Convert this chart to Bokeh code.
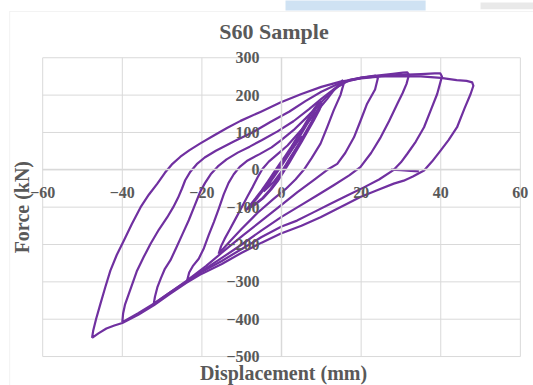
import math
from bokeh.plotting import figure
from bokeh.models import FixedTicker, BoxAnnotation, Range1d, Label
from bokeh.embed import file_html
from bokeh.resources import INLINE

# ---------------- data ----------------
x_ticks = [-60, -40, -20, 0, 20, 40, 60]
y_ticks = [-500, -400, -300, -200, -100, 0, 100, 200, 300]

# cycle +/-48 mm
c48_x = [-47.6, -47.3, -46.6, -45.5, -44.3, -43.0, -41.4, -39.6, -37.6, -35.4, -33.3, -31.2, -29.3, -27.4,
         -25.4, -23.2, -20.5, -17.0, -13.7, -10.3, -5.3, -0.3, 5.0, 10.0, 14.8, 20.0, 25.0, 30.0, 35.0, 40.0,
         44.0, 46.5, 47.9, 48.2, 47.5, 46.0, 44.1, 42.0, 40.0, 37.8, 35.8, 33.0, 30.7, 28.2, 24.0, 19.8, 15.0,
         9.8, 5.0, -0.3, -5.0, -10.0, -15.0, -20.0, -24.0, -28.0, -32.0, -36.0, -40.0, -42.0, -44.0, -46.0, -47.6]
c48_y = [-450, -430, -400, -359, -315, -270, -228, -189, -145, -100, -66, -37, -8, 16,
         35, 52, 70, 92, 112, 131, 155, 180, 203, 222, 236, 245, 250, 251, 250, 246,
         240, 238, 234, 225, 203, 165, 114, 80, 52, 22, -2, -18, -29, -37, -55, -73, -99,
         -127, -150, -171, -195, -222, -252, -278, -303, -332, -362, -388, -410, -417, -425, -438, -450]

# cycle +/-40 mm
c40_x = [-40.0, -39.8, -39.3, -38.3, -37.3, -36.3, -34.6, -32.9, -30.8, -28.7, -27.2, -26.0, -25.0, -24.2,
         -22.9, -21.3, -19.3, -16.5, -12.0, -7.0, -2.8, 2.0, 6.0, 10.0, 14.0, 17.0, 20.0, 25.0, 30.0, 35.0,
         38.5, 39.9, 40.3, 39.8, 39.1, 37.5, 35.8, 33.7, 31.6, 30.0, 28.2, 24.5, 20.7, 16.5, 12.3, 8.0, 3.9,
         0.0, -5.0, -10.0, -15.0, -20.0, -23.7, -28.0, -32.0, -36.0, -40.0]
c40_y = [-408, -385, -360, -330, -300, -270, -233, -198, -160, -127, -100, -75, -50, -28,
         -5, 15, 33, 51, 76, 102, 128, 156, 184, 209, 229, 240, 246, 251, 254, 256,
         258, 258, 250, 230, 203, 160, 114, 75, 43, 20, 0, -26, -47, -69, -91, -114, -136,
         -152, -180, -212, -244, -273, -298, -328, -358, -384, -408]

# cycle +/-32 mm
c32_x = [-32.1, -31.8, -31.2, -30.3, -29.3, -27.9, -26.5, -25.0, -23.3, -21.8, -20.4, -19.2, -17.8, -16.0,
         -13.8, -11.0, -8.0, -5.0, -1.0, 3.0, 7.0, 10.0, 13.0, 16.0, 20.0, 24.0, 28.0, 30.5, 31.6, 32.0,
         31.4, 30.4, 29.1, 27.0, 24.9, 22.5, 19.8, 17.0, 13.0, 9.0, 5.0, 0.0, -5.0, -10.0, -15.0, -19.0,
         -23.7, -28.0, -32.1]
c32_y = [-359, -340, -315, -290, -265, -242, -210, -175, -135, -95, -58, -35, -12, 9,
         28, 46, 62, 79, 103, 130, 163, 190, 215, 235, 246, 252, 257, 260, 261, 254,
         230, 205, 177, 130, 87, 45, 7, -15, -42, -68, -94, -126, -162, -200, -236, -264,
         -296, -328, -359]

# cycle +/-24 mm
c24_x = [-23.7, -23.2, -22.3, -20.8, -19.5, -18.3, -17.0, -15.8, -14.5, -13.3, -12.0, -10.5, -8.5, -5.5,
         -2.5, 0.0, 3.0, 6.0, 9.0, 12.0, 14.5, 17.0, 20.0, 23.6, 24.2, 23.5, 21.5, 19.8, 18.2, 16.0, 14.0,
         11.5, 8.0, 4.0, 0.0, -5.0, -10.0, -15.0, -19.0, -23.7]
c24_y = [-296, -275, -258, -238, -210, -175, -140, -105, -65, -35, -12, 8, 25, 42,
         60, 80, 106, 137, 170, 203, 225, 240, 247, 252, 245, 215, 177, 130, 87, 45, 16,
         0, -28, -60, -94, -136, -178, -222, -258, -296]

# cycle +/-16 mm
c16_x = [-15.8, -15.2, -14.3, -13.0, -11.5, -10.0, -8.5, -7.2, -6.0, -4.8, -3.2, -1.0, 1.5, 4.0,
         6.5, 9.0, 11.5, 13.5, 15.3, 15.6, 14.8, 13.1, 11.5, 9.8, 7.6, 5.6, 3.5, 1.0, -2.0, -6.0,
         -10.0, -13.0, -15.8]
c16_y = [-225, -205, -185, -160, -130, -100, -70, -45, -20, 2, 22, 42, 65, 95,
         125, 158, 190, 218, 239, 230, 200, 159, 115, 70, 32, 0, -26, -52, -78, -115,
         -158, -192, -225]

# cycles +/-8 mm (two passes)
c8a_x = [-9.0, -8.0, -6.5, -5.0, -3.5, -2.0, -0.5, 1.0, 2.5, 4.0, 5.5, 7.0, 8.3, 9.3,
         9.6, 9.0, 7.5, 6.0, 4.5, 3.0, 1.5, 0.0, -1.5, -3.0, -5.0, -7.0, -9.0]
c8a_y = [-108, -96, -76, -55, -32, -8, 15, 38, 62, 88, 115, 142, 165, 180,
         174, 158, 128, 100, 72, 45, 18, -8, -33, -55, -78, -95, -108]
c8b_x = [-8.5, -7.4, -6.0, -4.4, -2.9, -1.4, 0.1, 1.6, 3.1, 4.6, 6.1, 7.6, 8.8, 9.8,
         10.1, 9.5, 8.0, 6.5, 5.0, 3.5, 2.0, 0.5, -1.0, -2.6, -4.5, -6.5, -8.5]
c8b_y = [-103, -92, -74, -52, -30, -6, 17, 40, 64, 90, 117, 144, 166, 182,
         176, 160, 130, 102, 74, 47, 20, -6, -31, -53, -75, -92, -103]

# cycle +/-4 mm
c4_x = [-4.5, -3.5, -2.0, -0.5, 1.0, 2.5, 4.0, 5.0, 5.2, 4.0, 2.5, 1.0, -0.5, -2.0, -3.5, -4.5]
c4_y = [-58, -42, -20, 3, 27, 52, 75, 88, 82, 62, 38, 12, -12, -33, -48, -58]

# short return segment near zero force
seg_x = [27.5, 30.0, 32.5, 34.5]
seg_y = [0.5, -1.0, -3.0, -4.0]

series = [(c48_x, c48_y), (c40_x, c40_y), (c32_x, c32_y), (c24_x, c24_y), (c16_x, c16_y),
          (c8a_x, c8a_y), (c8b_x, c8b_y), (c4_x, c4_y), (seg_x, seg_y)]

# ---------------- figure ----------------
GRAY_TXT = "#595959"
GRID = "#d9d9d9"
FONT = "Liberation Serif"
PURPLE = "#7030A0"

# the frame spans the whole window; the plot area (-60..60, -500..300) sits inside it
p = figure(width=533, height=385, x_range=Range1d(-70.6, 63.3), y_range=Range1d(-577.5, 453.3),
           output_backend="svg", toolbar_location=None, title_location=None,
           min_border=0)
p.background_fill_color = "white"
p.border_fill_color = "white"
p.outline_line_color = None
p.grid.visible = False

# chart-area border and the strips along the top edge of the picture
p.add_layout(BoxAnnotation(left=-68.3, right=80, top=423.8, bottom=-700, fill_color=None,
                           line_color="#d4d4d4", line_width=1, level="underlay"))
p.add_layout(BoxAnnotation(left=1.0, right=36.2, bottom=426.5, top=470, fill_color="#cfe2f3",
                           fill_alpha=1.0, line_color=None, level="underlay"))
p.add_layout(BoxAnnotation(left=50.0, right=80, bottom=430.0, top=448.0, fill_color="#e4e4e4",
                           fill_alpha=0.8, line_color=None, level="underlay"))

# gridlines of the plot area
xlo, xhi = x_ticks[0], x_ticks[-1]
ylo, yhi = y_ticks[0], y_ticks[-1]
p.segment(x0=x_ticks, y0=[ylo] * len(x_ticks), x1=x_ticks, y1=[yhi] * len(x_ticks),
          line_color=GRID, line_width=1)
p.segment(x0=[xlo] * len(y_ticks), y0=y_ticks, x1=[xhi] * len(y_ticks), y1=y_ticks,
          line_color=GRID, line_width=1)

# axes crossing at the origin
xa = p.xaxis[0]
xa.ticker = FixedTicker(ticks=x_ticks)
xa.fixed_location = 0
xa.bounds = (xlo, xhi)
ya = p.yaxis[0]
ya.ticker = FixedTicker(ticks=y_ticks)
ya.fixed_location = 0
ya.bounds = (ylo, yhi)
for ax in (xa, ya):
    ax.axis_line_color = GRID
    ax.axis_line_width = 1.5
    ax.major_tick_line_color = None
    ax.minor_tick_line_color = None
    ax.major_label_text_font = FONT
    ax.major_label_text_font_style = "bold"
    ax.major_label_text_font_size = "16px"
    ax.major_label_text_color = GRAY_TXT
xa.major_label_standoff = 11
ya.major_label_standoff = 16

for xs, ys in series:
    p.line(xs, ys, line_color=PURPLE, line_width=2.2, line_join="round")

# texts
p.add_layout(Label(x=-1.9, y=370, text="S60 Sample", text_font=FONT, text_font_style="bold",
                   text_font_size="22px", text_color=GRAY_TXT, text_align="center",
                   text_baseline="alphabetic"))
p.add_layout(Label(x=0.5, y=-543, text="Displacement (mm)", text_font=FONT, text_font_style="bold",
                   text_font_size="20px", text_color=GRAY_TXT, text_align="center",
                   text_baseline="alphabetic"))
p.add_layout(Label(x=-65.2, y=-100, text="Force (kN)", angle=math.pi / 2, text_font=FONT,
                   text_font_style="bold", text_font_size="20px", text_color=GRAY_TXT,
                   text_align="center", text_baseline="middle"))

open("out.html", "w").write(file_html(p, INLINE))
